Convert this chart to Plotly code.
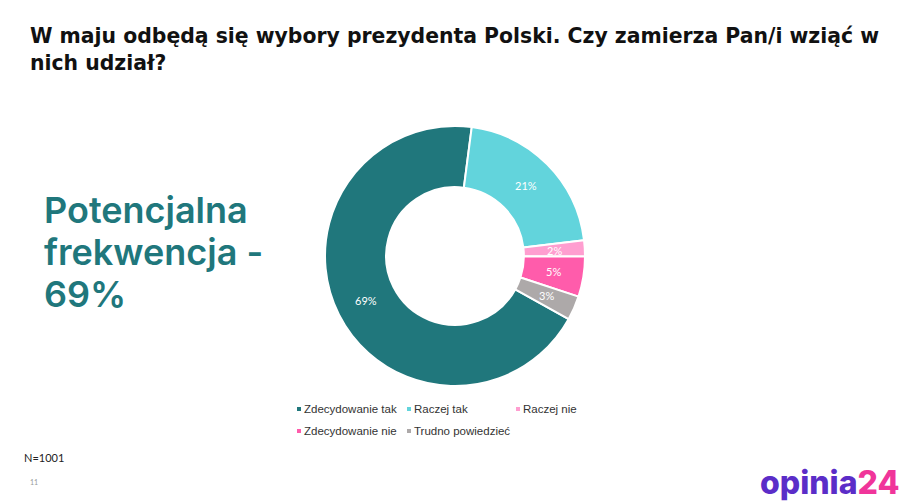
import math

import plotly.graph_objects as go

TITLE = "W maju odbędą się wybory prezydenta Polski. Czy zamierza Pan/i wziąć w<br>nich udział?"
HEADLINE = ["Potencjalna", "frekwencja -", "69%"]
HEADLINE_Y = [212, 254, 296]

categories = ["Zdecydowanie tak", "Raczej tak", "Raczej nie", "Zdecydowanie nie", "Trudno powiedzieć"]
values = [69, 21, 2, 5, 3]
colors = ["#20777C", "#62D4DC", "#FF9ED0", "#FF5CAB", "#ADA9A9"]

W, H = 915, 504
HEAD_FONT = "Inter, sans-serif"
TEAL = "#20777C"

# donut geometry in page pixels
CX, CY, R = 455, 256, 130
HOLE = 0.53
ROTATION = 119

fig = go.Figure()

fig.add_trace(go.Pie(
    labels=categories,
    values=values,
    hole=HOLE,
    sort=False,
    direction="clockwise",
    rotation=ROTATION,
    marker=dict(colors=colors, line=dict(color="#ffffff", width=2)),
    textinfo="none",
    domain=dict(x=[(CX - R) / W, (CX + R) / W], y=[1 - (CY + R) / H, 1 - (CY - R) / H]),
    showlegend=False,
))

# plotly pushes labels of thin slices outwards, so put them mid-ring by hand
total = sum(values)
start = ROTATION
ring_r = R * (1 + HOLE) / 2
for v in values:
    mid = math.radians(start + v / total * 180)
    start += v / total * 360
    fig.add_annotation(
        x=(CX + ring_r * math.sin(mid)) / W, y=1 - (CY - ring_r * math.cos(mid)) / H,
        xref="paper", yref="paper", showarrow=False,
        text=f"{v / total:.0%}",
        font=dict(color="#ffffff", size=11, family="Lato, sans-serif"),
    )


def px_text(x, y, text, size, color, family=HEAD_FONT, weight=400, align="left", yanchor="top"):
    # everything outside the donut is placed in page pixels
    fig.add_annotation(
        x=(x - 2) / W, y=1 - (y - 2) / H, xref="paper", yref="paper",
        xanchor="left", yanchor=yanchor, align=align,
        text=text, showarrow=False,
        font=dict(size=size, color=color, family=family, weight=weight),
    )


px_text(30, 24, TITLE, 20.4, "#111111", family="DejaVu Sans, sans-serif", weight=700)
for line, y in zip(HEADLINE, HEADLINE_Y):
    px_text(44, y, line, 36, TEAL, weight=600, yanchor="middle")
px_text(24, 451, "N=1001", 11, "#222222", family="Lato, sans-serif")
px_text(30, 478, "11", 7, "#999999", family="Lato, sans-serif")

# legend, three columns and two rows
legend_x = [297, 407, 516]
legend_y = [409, 431]
for i, (name, color) in enumerate(zip(categories, colors)):
    x = legend_x[i % 3]
    y = legend_y[i // 3]
    fig.add_shape(
        type="rect", xref="paper", yref="paper",
        x0=x / W, x1=(x + 4) / W, y0=1 - (y + 2) / H, y1=1 - (y - 2) / H,
        fillcolor=color, line_width=0,
    )
    px_text(x + 7, y + 2, name, 11.5, "#333333", family="Liberation Sans, Arial, sans-serif", yanchor="middle")

# logo wordmark
px_text(
    760, 484,
    "<span style='color:#5B2DC8'>opinia</span><span style='color:#F0359A'>24</span>",
    32, "#5B2DC8", family="Inter, sans-serif", weight=800, yanchor="middle",
)

fig.update_layout(
    width=W,
    height=H,
    margin=dict(l=0, r=0, t=0, b=0),
    paper_bgcolor="#ffffff",
    plot_bgcolor="#ffffff",
)

fig.write_html("out.html", post_script="document.body.style.margin='0';", config={"displayModeBar": False})
